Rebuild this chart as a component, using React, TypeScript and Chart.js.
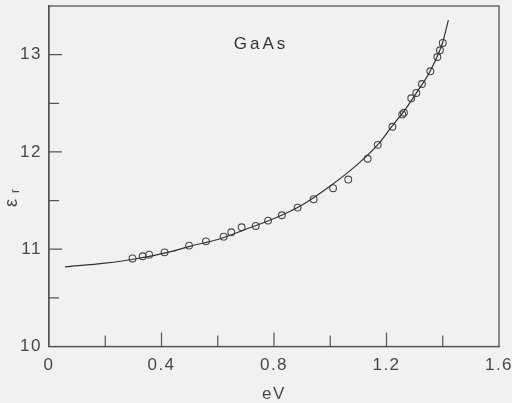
import React, { useEffect, useRef } from "react";
import { Chart, registerables } from "chart.js";

Chart.register(...registerables);

// Measured points (photon energy in eV, relative permittivity)
const pointEnergy = [0.297, 0.333, 0.356, 0.411, 0.498, 0.558, 0.621, 0.648, 0.685, 0.735, 0.779, 0.828, 0.884, 0.941, 1.01, 1.064, 1.133, 1.169, 1.221, 1.256, 1.262, 1.288, 1.306, 1.326, 1.356, 1.381, 1.39, 1.4];
const pointEps = [10.905, 10.927, 10.944, 10.968, 11.037, 11.081, 11.129, 11.174, 11.226, 11.239, 11.294, 11.349, 11.428, 11.514, 11.627, 11.716, 11.93, 12.073, 12.259, 12.386, 12.403, 12.551, 12.606, 12.698, 12.829, 12.976, 13.045, 13.12];

// Fitted curve
const curveEnergy = [0.057, 0.2, 0.3, 0.43, 0.5, 0.6, 0.7, 0.8, 0.9, 1.0, 1.1, 1.17, 1.22, 1.26, 1.307, 1.355, 1.399, 1.42];
const curveEps = [10.818, 10.857, 10.897, 10.972, 11.03, 11.1, 11.205, 11.315, 11.455, 11.65, 11.88, 12.077, 12.266, 12.41, 12.61, 12.83, 13.12, 13.354];

const xTickLabels = [0, 0.4, 0.8, 1.2, 1.6];
const yTickLabels = [10, 11, 12, 13];
const xMinorTicks = [0.2, 0.4, 0.6, 0.8, 1.0, 1.2, 1.4];
const yMinorTicks = [10.5, 11, 11.5, 12, 12.5, 13];

const BG = "#f1f1f1";
const INK = "#484848";
const AXIS = "#555";
const FONT = "'Liberation Sans', 'DejaVu Sans', sans-serif";

const decorPlugin = {
  id: "decor",
  beforeDraw(chart: any) {
    const ctx = chart.ctx;
    ctx.save();
    ctx.fillStyle = BG;
    ctx.fillRect(0, 0, chart.width, chart.height);
    ctx.restore();
    (ctx as any).letterSpacing = "1.5px";
  },
  afterDraw(chart: any) {
    const ctx = chart.ctx;
    const a = chart.chartArea;
    const xs = chart.scales.x;
    const ys = chart.scales.y;
    ctx.save();
    ctx.strokeStyle = AXIS;
    ctx.lineWidth = 1.3;
    ctx.strokeRect(a.left, a.top, a.right - a.left, a.bottom - a.top);
    ctx.lineWidth = 1.2;
    ctx.beginPath();
    xMinorTicks.forEach((v) => {
      const px = xs.getPixelForValue(v);
      const major = Math.abs(v / 0.4 - Math.round(v / 0.4)) < 1e-6;
      const len = major ? 14 : 11;
      ctx.moveTo(px, a.bottom);
      ctx.lineTo(px, a.bottom - len);
    });
    yMinorTicks.forEach((v) => {
      const py = ys.getPixelForValue(v);
      const major = Math.abs(v - Math.round(v)) < 1e-6;
      const len = major ? 13 : 10;
      ctx.moveTo(a.left, py);
      ctx.lineTo(a.left + len, py);
    });
    ctx.stroke();

    // Panel label
    ctx.fillStyle = "#333";
    (ctx as any).letterSpacing = "3px";
    ctx.font = `17px ${FONT}`;
    ctx.textAlign = "center";
    ctx.textBaseline = "middle";
    ctx.fillText("GaAs", 261, 44);
    (ctx as any).letterSpacing = "0px";

    // Y axis title: epsilon with subscript r, rotated
    ctx.translate(12, 203);
    ctx.rotate(-Math.PI / 2);
    ctx.fillStyle = INK;
    ctx.font = `18px ${FONT}`;
    ctx.textAlign = "center";
    ctx.textBaseline = "middle";
    ctx.fillText("ε", 0, 0);
    ctx.font = `12px ${FONT}`;
    ctx.fillText("r", 12, 4);
    ctx.restore();
  },
};

export default function App() {
  const ref = useRef<HTMLCanvasElement | null>(null);
  useEffect(() => {
    document.body.style.background = BG;
    const canvas = ref.current!;
    const chart = new Chart(canvas, {
      type: "scatter",
      data: {
        datasets: [
          {
            type: "line",
            label: "fit",
            data: curveEnergy.map((x, i) => ({ x, y: curveEps[i] })),
            borderColor: "#333",
            borderWidth: 1.2,
            pointRadius: 0,
            fill: false,
            cubicInterpolationMode: "monotone",
          } as any,
          {
            label: "measured",
            data: pointEnergy.map((x, i) => ({ x, y: pointEps[i] })),
            pointStyle: "circle",
            pointRadius: 3.4,
            borderWidth: 1.1,
            borderColor: INK,
            backgroundColor: "rgba(0,0,0,0)",
          },
        ],
      },
      options: {
        responsive: false,
        animation: false,
        events: [],
        layout: { padding: { top: 6, right: 13, left: 0, bottom: 0 } },
        plugins: { legend: { display: false }, tooltip: { enabled: false } },
        scales: {
          x: {
            type: "linear",
            min: 0,
            max: 1.6,
            afterBuildTicks: (s: any) => {
              s.ticks = xTickLabels.map((v) => ({ value: v }));
            },
            afterFit: (s: any) => {
              s.height = 56.5;
              s.paddingLeft = 0;
              s.paddingRight = 0;
            },
            ticks: {
              padding: 9,
              color: INK,
              font: { family: FONT, size: 17 },
              maxRotation: 0,
              callback: (v: any) => (v === 0 ? "0" : Number(v).toFixed(1)),
            },
            grid: { display: false, drawTicks: false },
            border: { display: true, color: AXIS, width: 1.3 },
            title: {
              display: true,
              text: "eV",
              color: INK,
              font: { family: FONT, size: 17 },
              padding: { top: 0, bottom: -2 },
            },
          },
          y: {
            type: "linear",
            min: 10,
            max: 13.5,
            afterBuildTicks: (s: any) => {
              s.ticks = yTickLabels.map((v) => ({ value: v }));
            },
            afterFit: (s: any) => {
              s.width = 49;
              s.paddingTop = 0;
              s.paddingBottom = 0;
            },
            ticks: {
              padding: 7,
              color: INK,
              font: { family: FONT, size: 17 },
              callback: (v: any) => String(v),
            },
            grid: { display: false, drawTicks: false },
            border: { display: true, color: AXIS, width: 1.3 },
          },
        },
      },
      plugins: [decorPlugin],
    } as any);
    return () => chart.destroy();
  }, []);
  return (
    <div style={{ position: "fixed", left: 0, top: 0, width: 512, height: 403, background: BG }}>
      <canvas ref={ref} width={512} height={403} style={{ display: "block" }} />
    </div>
  );
}
